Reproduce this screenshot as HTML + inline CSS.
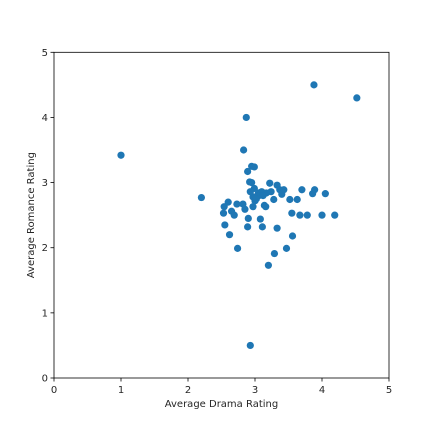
<!DOCTYPE html>
<html><head><meta charset="utf-8"><style>
html,body{margin:0;padding:0;background:#fff;width:432px;height:432px;overflow:hidden}
svg text{font-family:"DejaVu Sans","Liberation Sans",sans-serif;fill:#262626}
</style></head><body>
<svg id="chart" width="432" height="432" xmlns="http://www.w3.org/2000/svg">
<rect width="432" height="432" fill="#fff"/>
<g id="marks"></g>
<g id="axes"></g>
</svg>
<script>
const dramaRatings=[2.83,2.95,2.99,2.89,2.92,2.95,3.22,3.33,2.99,3.05,3.10,2.97,3.02,3.06,3.17,3.24,3.37,3.43,3.40,2.93,3.70,3.89,3.86,4.05,3.52,3.63,3.28,2.60,2.73,2.82,2.54,2.65,2.69,2.53,2.85,2.97,3.14,3.16,3.55,3.67,3.78,4.00,4.19,2.90,3.08,2.55,2.89,3.11,3.33,2.62,3.56,2.74,3.47,3.29,3.20,1.00,2.20,2.87,3.88,4.52,2.93,3.00,3.02,3.12];
const romanceRatings=[3.50,3.25,3.24,3.17,3.01,3.00,2.99,2.96,2.91,2.84,2.86,2.78,2.78,2.80,2.84,2.86,2.89,2.89,2.82,2.86,2.89,2.89,2.83,2.83,2.74,2.74,2.74,2.70,2.67,2.67,2.63,2.56,2.50,2.53,2.59,2.63,2.65,2.63,2.53,2.50,2.50,2.50,2.50,2.45,2.44,2.35,2.32,2.32,2.30,2.20,2.18,1.99,1.99,1.91,1.73,3.42,2.77,4.00,4.50,4.30,0.50,2.72,2.75,2.80];
const xTicks=[0,1,2,3,4,5];
const yTicks=[0,1,2,3,4,5];
const X0=54,X1=389,Y0=378,Y1=52.3;
function xs(v){return X0+(v-0)/(5-0)*(X1-X0);}
function ys(v){return Y0-(v-0)/(5-0)*(Y0-Y1);}
const NS="http://www.w3.org/2000/svg";
const marks=document.getElementById('marks');
for(let i=0;i<dramaRatings.length;i++){
  const c=document.createElementNS(NS,'circle');
  c.setAttribute('cx',xs(dramaRatings[i]));c.setAttribute('cy',ys(romanceRatings[i]));
  c.setAttribute('r',3.6);c.setAttribute('fill','#1f77b4');
  
  
  marks.appendChild(c);
}
const axes=document.getElementById('axes');
function el(tag,attrs,text){const e=document.createElementNS(NS,tag);for(const k in attrs)e.setAttribute(k,attrs[k]);if(text!==undefined)e.textContent=text;axes.appendChild(e);return e;}
const frame=el('rect',{x:X0,y:Y1,width:X1-X0,height:Y0-Y1,fill:'none',stroke:'#000','stroke-width':0.8});


xTicks.forEach(t=>{
  const l=el('line',{x1:xs(t),x2:xs(t),y1:Y0,y2:Y0+3.5,stroke:'#000','stroke-width':0.8});
  
  
  const tx=el('text',{x:xs(t),y:Y0+15,'text-anchor':'middle','font-size':10},String(t));
  
  
});
yTicks.forEach(t=>{
  const l=el('line',{x1:X0-3.5,x2:X0,y1:ys(t),y2:ys(t),stroke:'#000','stroke-width':0.8});
  
  
  const tx=el('text',{x:X0-6,y:ys(t)+3.5,'text-anchor':'end','font-size':10},String(t));
  
  
});
const xt=el('text',{x:(X0+X1)/2,y:407,'text-anchor':'middle','font-size':10},'Average Drama Rating');


const yt=el('text',{x:0,y:0,'text-anchor':'middle','font-size':10,transform:'translate(34,'+((Y0+Y1)/2)+') rotate(-90)'},'Average Romance Rating');


</script>
</body></html>
